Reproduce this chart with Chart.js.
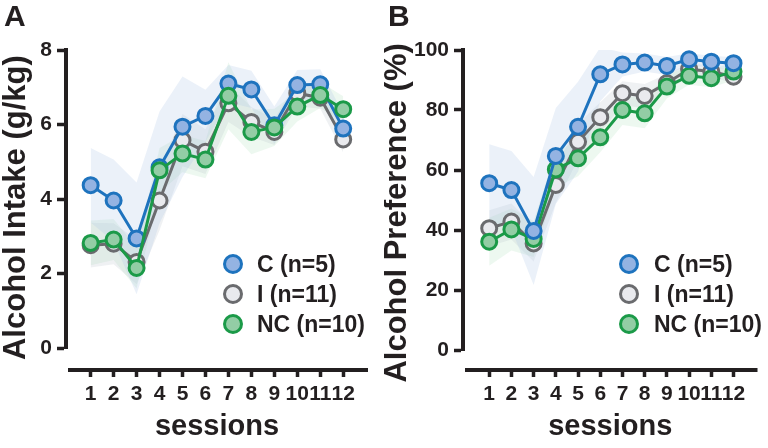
<!DOCTYPE html>
<html><head><meta charset="utf-8">
<script src="https://cdn.jsdelivr.net/npm/chart.js@4"></script>
<style>
html,body{margin:0;padding:0;background:#fff;}
#wrap{position:relative;width:768px;height:448px;overflow:hidden;background:#fff;}
.panel{position:absolute;top:0;width:384px;height:448px;}
.legend{position:absolute;top:0;left:0;width:0;height:0;font:bold 23px 'Liberation Sans',Arial,sans-serif;color:#231f20;}
.legend .item{position:absolute;white-space:nowrap;height:30px;line-height:30px;}
.legend .dot{position:absolute;width:14px;height:14px;border-radius:50%;border:3px solid;top:5px;left:0;}
.legend .txt{position:absolute;top:0;}
</style></head>
<body>
<div id="wrap">
  <div class="panel" style="left:0"><canvas id="cA" width="384" height="448"></canvas></div>
  <div class="panel" style="left:384px"><canvas id="cB" width="384" height="448"></canvas></div>
  <div class="legend" id="legA"></div>
  <div class="legend" id="legB"></div>
</div>
<script>
// ---------------- data ----------------
const sessions = [1,2,3,4,5,6,7,8,9,10,11,12];
const groupNames = ['C (n=5)', 'I (n=11)', 'NC (n=10)'];

// Panel A: alcohol intake (g/kg)
const intakeC  = [4.37, 3.96, 2.94, 4.85, 5.94, 6.23, 7.10, 6.94, 5.98, 7.06, 7.08, 5.89];
const intakeI  = [2.76, 2.80, 2.31, 3.96, 5.58, 5.27, 6.57, 6.07, 5.80, 6.84, 6.72, 5.60];
const intakeNC = [2.82, 2.91, 2.15, 4.77, 5.22, 5.06, 6.77, 5.80, 5.92, 6.48, 6.79, 6.41];
const intakeSemC  = [1.0, 1.1, 1.5, 1.5, 1.35, 0.7, 0.5, 0.5, 0.5, 0.4, 0.4, 0.4];
const intakeSemI  = [0.6, 0.55, 0.6, 0.8, 0.7, 0.6, 0.5, 0.4, 0.35, 0.35, 0.3, 0.35];
const intakeSemNC = [0.6, 0.55, 0.55, 0.6, 0.5, 0.5, 0.9, 0.6, 0.5, 0.4, 0.35, 0.35];
const intakeTicks = [0, 2, 4, 6, 8];

// Panel B: alcohol preference (%)
const prefC  = [55.6, 53.3, 39.7, 64.7, 74.4, 91.9, 95.2, 95.8, 94.7, 96.9, 96.1, 95.6];
const prefI  = [40.6, 42.8, 35.5, 55.0, 69.4, 77.6, 85.6, 84.7, 89.0, 93.6, 92.8, 91.1];
const prefNC = [36.1, 40.2, 37.0, 60.2, 63.9, 70.9, 80.0, 78.9, 87.8, 91.4, 90.6, 92.8];
const prefSemC  = [13, 13, 18, 16, 15, 9, 4, 3, 3, 2, 2, 2];
const prefSemI  = [6, 6, 6, 6, 6, 5, 4, 4, 3, 2, 2, 2];
const prefSemNC = [8, 7, 6, 6, 6, 5, 5, 5, 4, 3, 3, 3];
const prefTicks = [0, 20, 40, 60, 80, 100];

// ---------------- styles ----------------
const INK = '#231f20';
const lineColors = ['#1e73be', '#6a6b6e', '#1b9a48'];
const fillColors = ['#94b3e2', '#e9eaee', '#93cda5'];
const bandColors = ['rgba(176,198,232,0.25)', 'rgba(165,175,190,0.18)', 'rgba(175,222,186,0.22)'];

const pts = arr => sessions.map((s, i) => ({x: s, y: arr[i]}));

function buildDatasets(means, sems, orders) {
  const ds = [];
  means.forEach((m, g) => {
    ds.push({
      label: groupNames[g], data: pts(m), order: orders[g],
      borderColor: lineColors[g], backgroundColor: fillColors[g],
      borderWidth: 3, pointRadius: 7.5, pointBorderWidth: 3,
      pointBackgroundColor: fillColors[g], pointBorderColor: lineColors[g],
      tension: 0, fill: false, clip: false
    });
  });
  means.forEach((m, g) => {
    const up = m.map((v, i) => v + sems[g][i]);
    const lo = m.map((v, i) => v - sems[g][i]);
    ds.push({label: 'band', data: pts(up), order: 10 + g, fill: '+1',
      backgroundColor: bandColors[g], borderWidth: 0, pointRadius: 0, tension: 0});
    ds.push({label: 'band', data: pts(lo), order: 10 + g, fill: false,
      borderWidth: 0, pointRadius: 0, tension: 0});
  });
  return ds;
}

const xAxisLine = {
  id: 'xAxisLine',
  afterDraw(chart, args, opts) {
    const s = chart.scales.x, ca = chart.chartArea, ctx = chart.ctx;
    const y = s.top + opts.offset;
    ctx.save();
    ctx.strokeStyle = INK; ctx.lineWidth = 4; ctx.lineCap = 'butt';
    ctx.beginPath(); ctx.moveTo(ca.left + 2, y); ctx.lineTo(ca.right, y); ctx.stroke();
    ctx.restore();
  }
};

function makePanel(id, cfg) {
  return new Chart(document.getElementById(id), {
    type: 'line',
    data: {datasets: buildDatasets(cfg.means, cfg.sems, cfg.orders)},
    plugins: [xAxisLine],
    options: {
      responsive: false, animation: false, devicePixelRatio: 1,
      layout: {padding: {left: 4, right: cfg.padRight, top: 0, bottom: 0}},
      plugins: {
        legend: {display: false}, tooltip: {enabled: false},
        title: {display: true, text: cfg.letter, align: 'start', color: INK,
          font: {family: 'Liberation Sans', size: 30, weight: 'bold', lineHeight: 1},
          padding: {top: 3, bottom: 17}},
        xAxisLine: {offset: cfg.xOffset}
      },
      scales: {
        x: {
          type: 'linear', min: cfg.xMin, max: cfg.xMax,
          afterBuildTicks: s => { s.ticks = sessions.map(v => ({value: v})); },
          afterFit: s => { s.height = cfg.xHeight; },
          border: {display: false},
          grid: {display: true, drawOnChartArea: false, drawTicks: true,
            tickLength: cfg.xOffset + 7, tickWidth: 3.5, tickColor: INK,
            tickBorderDash: [0, cfg.xOffset - 1, 8, 300]},
          ticks: {color: INK, padding: 5, maxRotation: 0, autoSkip: false,
            font: {family: "'Liberation Sans Narrow', 'Arial Narrow', 'Liberation Sans'", size: 21, weight: 'bold'}},
          title: {display: true, text: 'sessions', color: INK,
            font: {family: 'Liberation Sans', size: 29, weight: 'bold'},
            padding: {top: 0, bottom: 4}}
        },
        y: {
          min: cfg.yTicks[0], max: cfg.yTicks[cfg.yTicks.length - 1],
          afterBuildTicks: s => { s.ticks = cfg.yTicks.map(v => ({value: v})); },
          afterFit: s => { s.width = cfg.yWidth; },
          border: {display: true, width: 4, color: INK},
          grid: {display: true, drawOnChartArea: false, drawTicks: true,
            tickLength: 9, tickWidth: 3.5, tickColor: INK},
          ticks: {color: INK, padding: 5,
            font: {family: 'Liberation Sans', size: 21, weight: 'bold'}},
          title: {display: true, text: cfg.yTitle, color: INK,
            font: {family: 'Liberation Sans', size: 31, weight: 'bold', lineHeight: 0.8},
            padding: {top: cfg.yTitlePad, bottom: 0}}
        }
      }
    }
  });
}

makePanel('cA', {
  letter: 'A', yTitle: 'Alcohol Intake (g/kg)\u00a0\u00a0', yTitlePad: 0,
  means: [intakeC, intakeI, intakeNC], sems: [intakeSemC, intakeSemI, intakeSemNC],
  orders: [1, 2, 0], yTicks: intakeTicks,
  yWidth: 62, padRight: 16, xHeight: 100, xOffset: 22, xMin: -0.074, xMax: 13.08
});
makePanel('cB', {
  letter: 'B', yTitle: 'Alcohol Preference (%)\u00a0\u00a0\u00a0', yTitlePad: -3,
  means: [prefC, prefI, prefNC], sems: [prefSemC, prefSemI, prefSemNC],
  orders: [0, 2, 1], yTicks: prefTicks,
  yWidth: 75, padRight: 1, xHeight: 98, xOffset: 20, xMin: -0.18, xMax: 13.08
});

function buildLegend(id, left, top, textLeft) {
  const el = document.getElementById(id);
  groupNames.forEach((name, g) => {
    const it = document.createElement('div');
    it.className = 'item';
    it.style.left = left + 'px';
    it.style.top = (top + g * 30) + 'px';
    const dot = document.createElement('div');
    dot.className = 'dot';
    dot.style.background = fillColors[g];
    dot.style.borderColor = lineColors[g];
    const tx = document.createElement('div');
    tx.className = 'txt';
    tx.style.left = textLeft + 'px';
    tx.textContent = name;
    it.appendChild(dot); it.appendChild(tx);
    el.appendChild(it);
  });
}
buildLegend('legA', 223, 249, 34);
buildLegend('legB', 619, 249, 35);
</script>
</body></html>
